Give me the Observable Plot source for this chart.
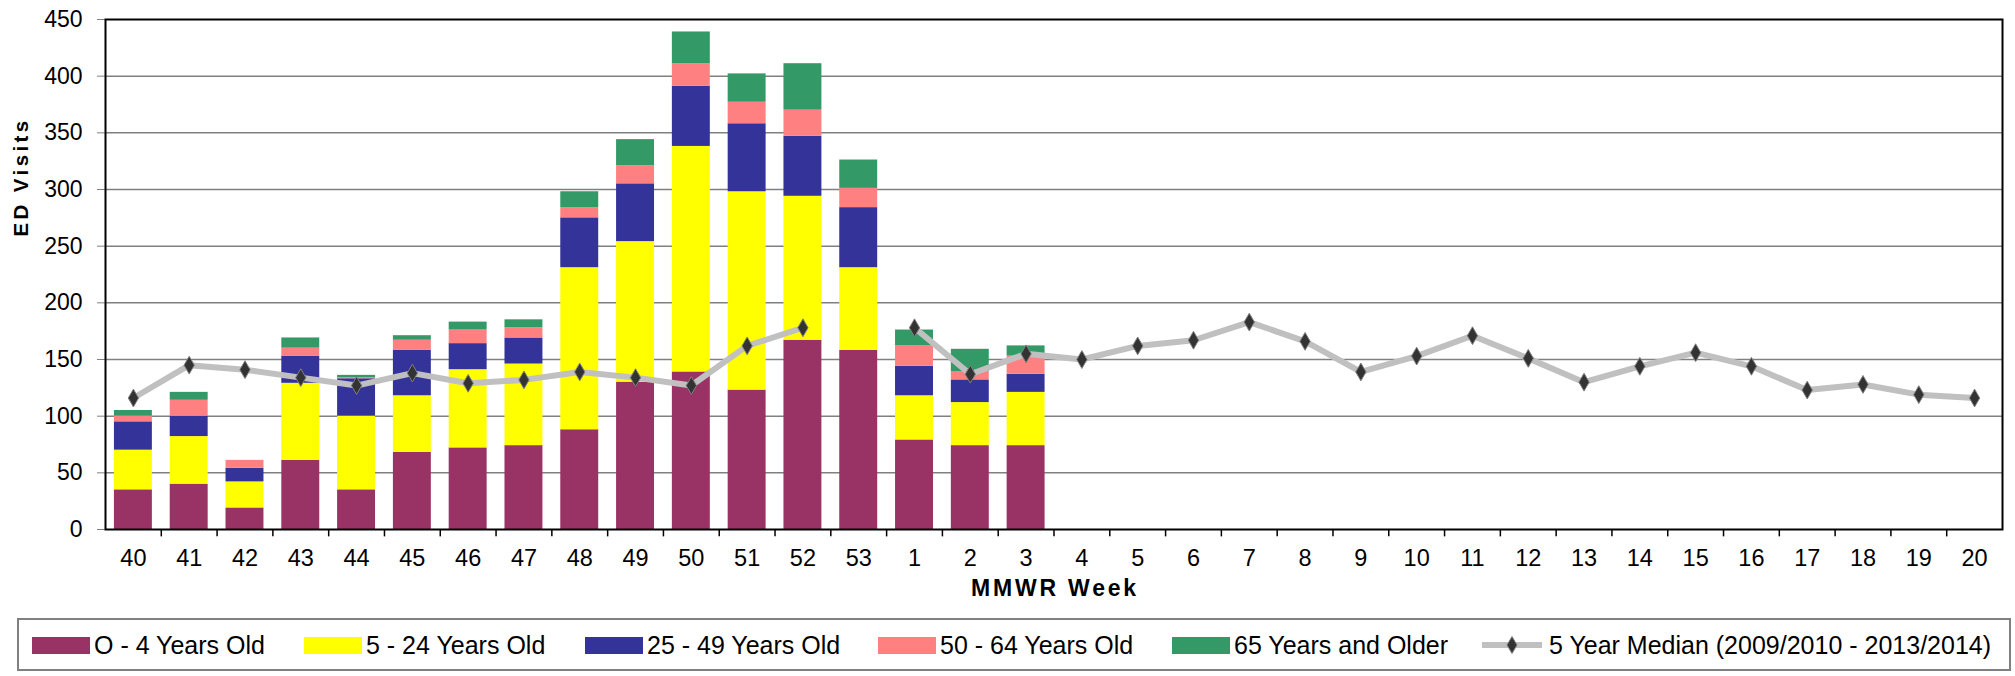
<!DOCTYPE html>
<html>
<head>
<meta charset="utf-8">
<script src="https://cdn.jsdelivr.net/npm/d3@7"></script>
<script src="https://cdn.jsdelivr.net/npm/@observablehq/plot@0.6"></script>
<style>
  html, body { margin: 0; padding: 0; background: #fff; }
  body { width: 2015px; height: 676px; position: relative; overflow: hidden;
         font-family: "Liberation Sans", Arial, sans-serif; }
  #chart { position: absolute; left: 0; top: 0; }
  #legend { position: absolute; left: 17px; top: 618px; width: 1994px; height: 53px;
            box-sizing: border-box; border: 2px solid #808080; }
  .lg-item { position: absolute; top: 631px; height: 28px; display: flex; align-items: center;
             font-size: 25px; line-height: 28px; color: #000; white-space: nowrap; }
  .lg-sw { width: 58px; height: 17px; margin-right: 4px; }
  .xlab text { letter-spacing: 2.8px; }
  .ylab text { letter-spacing: 3.4px; }
</style>
</head>
<body>
<div id="chart"></div>
<div id="legend"></div>
<script>
// ---- data ----
const weeks = ["40","41","42","43","44","45","46","47","48","49","50","51","52","53",
  "1","2","3","4","5","6","7","8","9","10","11","12","13","14","15","16","17","18","19","20"];
const seriesNames = ["O - 4 Years Old","5 - 24 Years Old","25 - 49 Years Old","50 - 64 Years Old","65 Years and Older"];
const seriesColors = ["#993366","#FFFF00","#333399","#FF8080","#339966"];
// values for weeks 40..53, 1..3 (weeks with reported data)
const age0_4   = [35,40,19,61,35,68,72,74,88,130,139,123,167,158,79,74,74];
const age5_24  = [35,42,23,68,65,50,69,72,143,124,199,175,127,73,39,38,47];
const age25_49 = [25,18,12,24,33,40,23,23,44,51,53,60,53,53,26,20,16];
const age50_64 = [5,14,7,7,1,9,12,9,9,16,20,19,23,17,18,7,16];
const age65    = [5,7,0,9,2,4,7,7,14,23,28,25,41,25,14,20,9];
const medianName = "5 Year Median (2009/2010 - 2013/2014)";
const median = [116,145,141,134,127,138,129,132,139,134,127,162,178,null,
  178,137,155,150,162,167,183,166,139,153,171,151,130,144,156,144,123,128,119,116];
const yTicks = [0,50,100,150,200,250,300,350,400,450];
const yLabel = "ED Visits";
const xLabel = "MMWR Week";

// ---- build tables ----
const seriesValues = [age0_4, age5_24, age25_49, age50_64, age65];
const bars = [];
seriesValues.forEach((vals, s) => {
  vals.forEach((v, i) => { if (v != null) bars.push({week: weeks[i], series: seriesNames[s], value: v}); });
});
const med = weeks.map((w, i) => ({week: w, value: median[i]}));

// ---- layout ----
const W = 2015, H = 612, mL = 105, mR = 13, mT = 19, mB = 83;
const step = (W - mL - mR) / weeks.length;
const font = "'Liberation Sans', Arial, sans-serif";

const chart = Plot.plot({
  width: W, height: H,
  marginLeft: mL, marginRight: mR, marginTop: mT, marginBottom: mB,
  style: {fontFamily: font, fontSize: "23px", background: "white", color: "black"},
  x: {type: "band", domain: weeks, paddingInner: 0.32, paddingOuter: 0.16, round: false, label: null},
  y: {domain: [0, 450], label: null},
  color: {domain: seriesNames, range: seriesColors},
  marks: [
    Plot.ruleY(yTicks.filter(t => t > 0 && t < 450), {stroke: "#808080", strokeWidth: 1.5}),
    Plot.barY(bars, {x: "week", y: "value", fill: "series"}),
    Plot.line(med, {x: "week", y: "value", stroke: "#c0c0c0", strokeWidth: 6}),
    Plot.dot(med.filter(d => d.value != null), {x: "week", y: "value", symbol: "diamond", r: 5.4,
      fill: "#333333", stroke: "#808080", strokeWidth: 1}),
    Plot.axisY({ticks: yTicks, tickSize: 8, tickPadding: 15, stroke: "#808080", fill: "black",
      fontSize: 23, label: null}),
    Plot.axisX({tickSize: 0, tickPadding: 20, fontSize: 23.5, label: null}),
    Plot.ruleX(weeks.slice(1), {x: d => d, y1: 0, y2: -6.5, dx: -step / 2, stroke: "black", strokeWidth: 1.5, clip: false}),
    Plot.frame({stroke: "black", strokeWidth: 2}),
    Plot.text([xLabel], {frameAnchor: "bottom", dy: 66, dx: 1, fontWeight: "bold", fontSize: 23, className: "xlab"}),
    Plot.text([yLabel], {frameAnchor: "left", dx: -84, dy: -38, rotate: -90, fontWeight: "bold", fontSize: 20.5, className: "ylab"})
  ]
});
document.getElementById("chart").appendChild(chart);

// ---- legend ----
const legendX = [32, 304, 585, 878, 1172, 1482];
seriesNames.forEach((name, i) => {
  const item = document.createElement("div");
  item.className = "lg-item";
  item.style.left = legendX[i] + "px";
  item.innerHTML = `<span class="lg-sw" style="background:${seriesColors[i]}"></span><span>${name}</span>`;
  document.body.appendChild(item);
});
const mItem = document.createElement("div");
mItem.className = "lg-item";
mItem.style.left = legendX[5] + "px";
mItem.innerHTML = `<svg width="60" height="28" style="margin-right:7px">
  <line x1="0" y1="14" x2="60" y2="14" stroke="#c0c0c0" stroke-width="6"/>
  <path d="M30,5.5 L35,14 L30,22.5 L25,14 Z" fill="#333333" stroke="#808080" stroke-width="1"/>
</svg><span>${medianName}</span>`;
document.body.appendChild(mItem);
</script>
</body>
</html>
